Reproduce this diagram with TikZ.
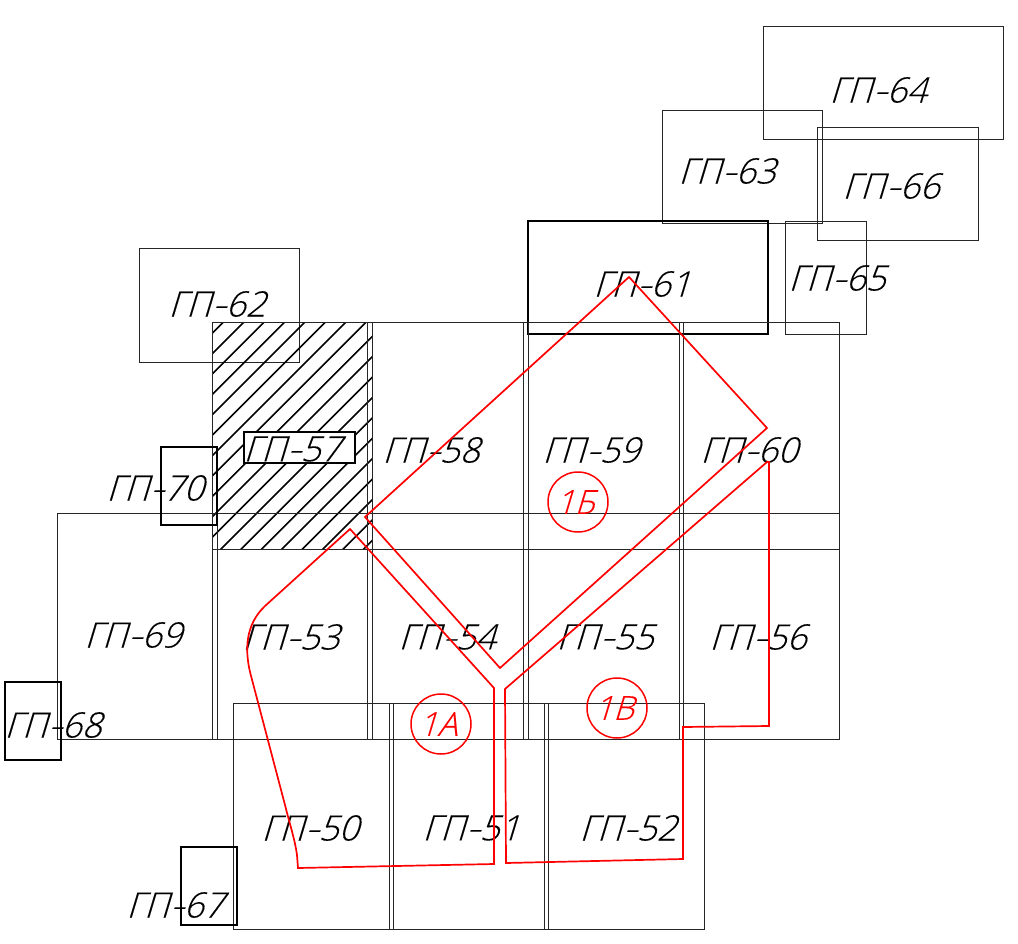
\documentclass[tikz,border=0pt]{standalone}
\usepackage{graphicx}
\usepackage{fontspec}
\newfontfamily\cad[FakeSlant=0.3,FakeBold=0.25]{Open Sans Light}
\newcommand{\lngdash}{\scalebox{1.3}[1]{-}}
\tikzset{
 cell/.style={draw=black!85,line width=0.9pt},
 heavy/.style={draw=black,line width=2pt},
 zone/.style={draw=red,line width=1.7pt,line join=miter},
 hatchline/.style={draw=black,line width=1.6pt},
 lab/.style={inner sep=0pt,font=\cad\fontsize{35}{35}\selectfont,text=black},
 zcirc/.style={draw=red,line width=1.5pt,circle,minimum size=60pt,inner sep=0pt,font=\cad\fontsize{33}{33}\selectfont,text=red}}
\begin{document}
\begin{tikzpicture}[x=1pt,y=-1pt]
\useasboundingbox (0,0) rectangle (1018,943);
% separate sheets
\foreach \a/\b/\c/\d in {763/26/1003/139,662/110/822/223,817/127/978/240,785/221/866/334,139/248/299/362}
  \draw[cell] (\a,\b) rectangle (\c,\d);
\draw[draw=black,line width=1.5pt] (528,221) rectangle (768,334);
% hatching of GP-57
\begin{scope}
\clip (212,322) rectangle (372.5,549);
\foreach \k in {0,...,18}
  \draw[hatchline] ({545.5+20.4*\k-322+100},222) -- ({545.5+20.4*\k-649-100},649+100);
\end{scope}
% upper row
\draw[cell] (212,322) rectangle (839,549);
\foreach \a in {367,372,523,528,679,683}
  \draw[cell] (\a,322) -- (\a,549);
% lower row
\draw[cell] (57,513) rectangle (839,739);
\foreach \a in {212,217,367,372,523,528,679,683}
  \draw[cell] (\a,513) -- (\a,739);
% bottom row
\draw[cell] (233,703) rectangle (704,929);
\foreach \a in {389,393,544,548}
  \draw[cell] (\a,703) -- (\a,929);
% small sheets
\draw[heavy] (161,447) rectangle (217,525);
\draw[heavy] (5,682) rectangle (61,760);
\draw[heavy] (181,847) rectangle (237,925);
\draw[draw=black,line width=2.4pt,fill=white] (244,432) rectangle (355,463);
% labels
\foreach \n/\x/\y in {64/881/90,63/730/171,66/894/186,65/840/278,61/645/284,62/220/304,57/295/449,58/434/450,59/594/450,60/752/450,70/158/488,69/136/635,53/294/637,54/450/637,55/608/637,56/761/637,68/56/725,50/313/828,51/474/828,52/631/828,67/178/905}
  \node[lab] (gp\n) at ({\x-3},\y) {ГП\lngdash\n};
% zones
\draw[zone] (365,517) -- (629,277) -- (767,428) -- (500,668) -- cycle;
\draw[zone] (350,529) -- (494,688) -- (494,864) -- (298,868) -- (297,855)
  .. controls (295,840) and (290,825) .. (285,805) -- (250,672)
  .. controls (245,650) and (245,625) .. (265,606) -- cycle;
\draw[zone] (505,689) -- (767,462) -- (769,462) -- (769,726) -- (683,727) -- (683,859) -- (506,863) -- cycle;
\node[zcirc] (za) at (441,724) {\hspace{-6pt}1А};
\node[zcirc] (zb) at (578,502) {\hspace{-6pt}1Б};
\node[zcirc] (zc) at (617,708) {\hspace{-6pt}1В};
\end{tikzpicture}
\end{document}
